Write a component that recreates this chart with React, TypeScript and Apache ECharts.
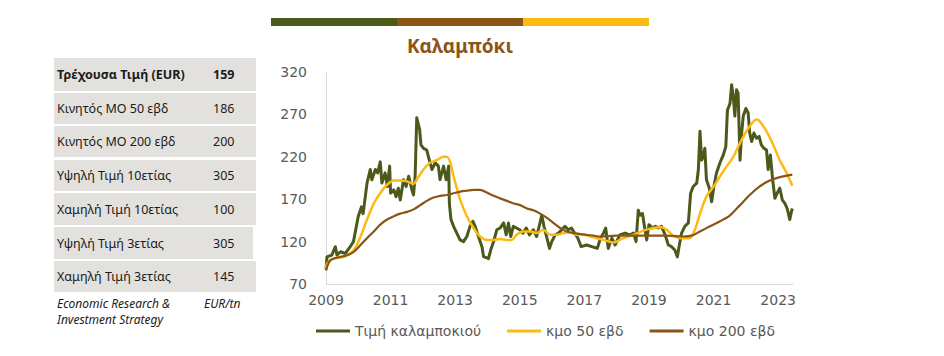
import React, { useEffect, useRef } from "react";
import * as echarts from "echarts";

// ---------- data ----------
const BASE_YEAR = 2009;
const yTicks = [70, 120, 170, 220, 270, 320];
const xTickLabels = ["2009", "2011", "2013", "2015", "2017", "2019", "2021", "2023"];
const seriesNames = ["Τιμή καλαμποκιού", "κμο 50 εβδ", "κμο 200 εβδ"];

const priceYears = [
  2009.0, 2009.03, 2009.18, 2009.29, 2009.34, 2009.45, 2009.6, 2009.75, 2009.85, 2009.9,
  2010.0, 2010.1, 2010.15, 2010.27, 2010.37, 2010.42, 2010.53, 2010.6, 2010.68, 2010.73,
  2010.83, 2010.9, 2010.97, 2011.0, 2011.1, 2011.17, 2011.24, 2011.3, 2011.4, 2011.48,
  2011.56, 2011.66, 2011.71, 2011.76, 2011.81, 2011.9, 2011.94, 2012.02, 2012.12, 2012.2,
  2012.28, 2012.38, 2012.48, 2012.53, 2012.64, 2012.72, 2012.8, 2012.82, 2012.87, 2012.95,
  2013.05, 2013.15, 2013.26, 2013.36, 2013.46, 2013.55, 2013.62, 2013.72, 2013.83, 2013.88,
  2013.98, 2014.03, 2014.1, 2014.19, 2014.29, 2014.39, 2014.5, 2014.58, 2014.65, 2014.72,
  2014.8, 2014.9, 2015.0, 2015.1, 2015.2, 2015.3, 2015.42, 2015.52, 2015.6, 2015.68,
  2015.75, 2015.83, 2015.92, 2015.99, 2016.1, 2016.2, 2016.3, 2016.4, 2016.5, 2016.6,
  2016.7, 2016.8, 2016.9, 2017.07, 2017.23, 2017.4, 2017.5, 2017.59, 2017.66, 2017.74,
  2017.85, 2017.95, 2018.1, 2018.26, 2018.41, 2018.52, 2018.6, 2018.67, 2018.72, 2018.8,
  2018.86, 2018.93, 2019.0, 2019.11, 2019.2, 2019.29, 2019.39, 2019.5, 2019.6, 2019.7,
  2019.8, 2019.88, 2019.94, 2020.01, 2020.11, 2020.22, 2020.29, 2020.37, 2020.48, 2020.53,
  2020.58, 2020.63, 2020.68, 2020.73, 2020.78, 2020.87, 2020.94, 2021.01, 2021.09, 2021.2,
  2021.3, 2021.38, 2021.43, 2021.51, 2021.56, 2021.61, 2021.66, 2021.71, 2021.76, 2021.82,
  2021.87, 2021.92, 2022.0, 2022.07, 2022.12, 2022.18, 2022.25, 2022.33, 2022.41, 2022.48,
  2022.56, 2022.64, 2022.69, 2022.76, 2022.83, 2022.9, 2022.97, 2023.05, 2023.13, 2023.21,
  2023.28, 2023.36, 2023.41, 2023.44,
];
const priceValues = [
  87, 102, 104, 114, 104, 108, 106, 114, 120, 130,
  150, 161, 153, 189, 205, 193, 205, 201, 214, 189,
  201, 185, 209, 177, 181, 173, 183, 169, 193, 185,
  197, 181, 175, 197, 266, 252, 234, 230, 228, 216,
  205, 213, 209, 193, 209, 193, 209, 165, 146, 138,
  130, 122, 120, 126, 138, 144, 138, 126, 114, 102,
  101, 100, 110, 120, 134, 136, 142, 128, 142, 126,
  138, 136, 134, 130, 136, 128, 134, 126, 138, 151,
  138, 126, 112, 120, 128, 130, 134, 138, 134, 136,
  130, 124, 114, 116, 114, 112, 124, 130, 136, 112,
  124, 116, 128, 130, 128, 130, 120, 157, 151, 153,
  138, 122, 140, 136, 138, 136, 138, 128, 116, 114,
  110, 102, 116, 130, 138, 142, 177, 185, 189, 205,
  250, 216, 220, 230, 193, 183, 167, 185, 201, 213,
  222, 232, 275, 283, 305, 291, 268, 299, 295, 216,
  248, 268, 277, 272, 248, 238, 248, 242, 244, 234,
  230, 228, 205, 222, 193, 171, 177, 183, 169, 165,
  159, 146, 155, 159,
];

const ma50Years = [
  2009.0, 2009.03, 2009.24, 2009.55, 2009.86, 2010.07, 2010.27, 2010.48, 2010.68, 2010.89,
  2011.1, 2011.3, 2011.51, 2011.71, 2011.81, 2012.02, 2012.22, 2012.43, 2012.64, 2012.74,
  2012.85, 2012.95, 2013.16, 2013.36, 2013.57, 2013.77, 2013.98, 2014.19, 2014.39, 2014.6,
  2014.75, 2014.9, 2015.1, 2015.32, 2015.53, 2015.73, 2015.94, 2016.15, 2016.35, 2016.56,
  2016.76, 2016.97, 2017.18, 2017.38, 2017.59, 2017.9, 2018.2, 2018.52, 2018.83, 2019.13,
  2019.39, 2019.55, 2019.75, 2020.01, 2020.25, 2020.42, 2020.58, 2020.78, 2021.04, 2021.3,
  2021.61, 2021.87, 2022.12, 2022.33, 2022.43, 2022.64, 2022.85, 2023.05, 2023.26, 2023.44,
];
const ma50Values = [
  88, 94, 100, 102, 110, 126, 146, 165, 177, 187,
  192, 192, 191, 188, 193, 205, 213, 216, 220, 220,
  213, 197, 169, 150, 136, 126, 122, 122, 123, 122,
  122, 128, 132, 132, 130, 134, 128, 128, 130, 131,
  128, 128, 126, 124, 122, 119, 124, 128, 133, 136,
  137, 134, 127, 124, 124, 134, 153, 173, 187, 203,
  220, 240, 256, 264, 262, 250, 234, 216, 201, 186,
];

const ma200Years = [
  2009.0, 2009.13, 2009.34, 2009.65, 2009.86, 2010.07, 2010.27, 2010.48, 2010.68, 2010.89,
  2011.1, 2011.3, 2011.51, 2011.71, 2011.92, 2012.12, 2012.33, 2012.54, 2012.74, 2012.95,
  2013.16, 2013.36, 2013.57, 2013.77, 2013.98, 2014.19, 2014.39, 2014.6, 2014.81, 2015.01,
  2015.22, 2015.42, 2015.63, 2015.84, 2016.04, 2016.25, 2016.45, 2016.66, 2016.87, 2017.07,
  2017.28, 2017.49, 2018.0, 2018.52, 2019.03, 2019.55, 2020.06, 2020.32, 2020.58, 2020.89,
  2021.2, 2021.51, 2021.82, 2022.12, 2022.43, 2022.74, 2023.05, 2023.44,
];
const ma200Values = [
  86, 98, 101, 104, 108, 116, 124, 132, 140, 146,
  150, 153, 155, 158, 163, 168, 172, 174, 175, 177,
  179, 180, 181, 181, 178, 174, 171, 168, 165, 163,
  159, 157, 153, 148, 142, 136, 132, 130, 129, 128,
  127, 126, 127, 127, 127, 127, 126, 127, 132, 138,
  144, 151, 163, 175, 185, 192, 196, 199,
];

const tableLabels = [
  "Τρέχουσα Τιμή (EUR)",
  "Κινητός ΜΟ 50 εβδ",
  "Κινητός ΜΟ 200 εβδ",
  "Υψηλή Τιμή 10ετίας",
  "Χαμηλή Τιμή 10ετίας",
  "Υψηλή Τιμή 3ετίας",
  "Χαμηλή Τιμή 3ετίας",
];
const tableValues = ["159", "186", "200", "305", "100", "305", "145"];

// ---------- styling ----------
const OLIVE = "#4B5A1A";
const BROWN = "#8B5516";
const YELLOW = "#FDBA12";
const FONT = "DejaVu Sans";
const TFONT = "Noto Sans";

const rowTops = [58, 93, 126, 160, 193, 227, 261];
const rowBottoms = [91, 124, 157, 191, 225, 259, 292];
const rowRights = [256, 256, 256, 256, 256, 253, 256];

const pairs = (xs: number[], ys: number[]) => xs.map((x, i) => [x - BASE_YEAR, ys[i]]);

export default function App() {
  const ref = useRef<HTMLDivElement>(null);
  useEffect(() => {
    document.body.style.margin = "0";
    if (!ref.current) return;
    const chart = echarts.init(ref.current, undefined, { renderer: "svg" });

    const graphics: any[] = [
      { type: "rect", shape: { x: 271, y: 18, width: 126, height: 8 }, style: { fill: OLIVE } },
      { type: "rect", shape: { x: 397, y: 18, width: 126, height: 8 }, style: { fill: BROWN } },
      { type: "rect", shape: { x: 523, y: 18, width: 126, height: 8 }, style: { fill: YELLOW } },
    ];
    tableLabels.forEach((lab, i) => {
      const cy = (rowTops[i] + rowBottoms[i]) / 2;
      graphics.push({
        type: "rect",
        shape: { x: 54, y: rowTops[i], width: rowRights[i] - 54, height: rowBottoms[i] - rowTops[i] },
        style: { fill: "#E3E1DD" },
      });
      graphics.push({
        type: "text",
        x: 57,
        y: cy,
        style: {
          text: lab,
          fill: "#1a1a1a",
          font: `${i === 0 ? "bold " : ""}12.5px "${TFONT}"`,
          textVerticalAlign: "middle",
          textAlign: "left",
        },
      });
      graphics.push({
        type: "text",
        x: 213,
        y: cy,
        style: {
          text: tableValues[i],
          fill: "#1a1a1a",
          font: `${i === 0 ? "bold " : ""}12.5px "${TFONT}"`,
          textVerticalAlign: "middle",
          textAlign: "left",
        },
      });
    });
    graphics.push(
      {
        type: "text",
        x: 57,
        y: 303,
        style: { text: "Economic Research &", fill: "#1a1a1a", font: `italic 12px "${TFONT}"`, textVerticalAlign: "middle" },
      },
      {
        type: "text",
        x: 57,
        y: 319,
        style: { text: "Investment Strategy", fill: "#1a1a1a", font: `italic 12px "${TFONT}"`, textVerticalAlign: "middle" },
      },
      {
        type: "text",
        x: 204,
        y: 303,
        style: { text: "EUR/tn", fill: "#1a1a1a", font: `italic 12px "${TFONT}"`, textVerticalAlign: "middle" },
      }
    );

    const xMax = 14.46;

    chart.setOption({
      animation: false,
      backgroundColor: "#ffffff",
      title: {
        text: "Καλαμπόκι",
        left: 455,
        top: 31,
        textAlign: "center",
        textStyle: { color: BROWN, fontFamily: TFONT, fontWeight: "bold", fontSize: 19 },
      },
      legend: {
        left: 311,
        top: 319,
        itemWidth: 34,
        itemHeight: 3,
        itemGap: 26,
        icon: "rect",
        textStyle: { fontFamily: FONT, fontSize: 14, color: "#595959" },
        data: seriesNames,
      },
      grid: { left: 326, right: 944 - 793, top: 72, bottom: 356 - 284, containLabel: false },
      xAxis: {
        type: "value",
        min: 0,
        max: xMax,
        interval: 2,
        splitLine: { show: false },
        axisTick: { show: false },
        axisLine: { show: true, lineStyle: { color: "#D9D9D9", width: 1 } },
        axisLabel: {
          color: "#595959",
          fontFamily: FONT,
          fontSize: 14,
          margin: 9,
          showMaxLabel: false,
          formatter: (v: number) => {
            const idx = Math.round(v / 2);
            return xTickLabels[idx] ?? "";
          },
        },
      },
      yAxis: {
        type: "value",
        min: yTicks[0],
        max: yTicks[yTicks.length - 1],
        interval: 50,
        splitLine: { show: false },
        axisTick: { show: false },
        axisLine: { show: true, lineStyle: { color: "#D9D9D9", width: 1 } },
        axisLabel: { color: "#595959", fontFamily: FONT, fontSize: 14, margin: 19 },
      },
      series: [
        {
          name: seriesNames[0],
          type: "line",
          data: pairs(priceYears, priceValues),
          symbol: "none",
          lineStyle: { color: OLIVE, width: 3, join: "round" },
          itemStyle: { color: OLIVE },
        },
        {
          name: seriesNames[1],
          type: "line",
          data: pairs(ma50Years, ma50Values),
          symbol: "none",
          smooth: 0.3,
          lineStyle: { color: YELLOW, width: 2.5 },
          itemStyle: { color: YELLOW },
        },
        {
          name: seriesNames[2],
          type: "line",
          data: pairs(ma200Years, ma200Values),
          symbol: "none",
          smooth: 0.3,
          lineStyle: { color: BROWN, width: 2.2 },
          itemStyle: { color: BROWN },
        },
      ],
      graphic: graphics,
    });
    return () => chart.dispose();
  }, []);
  return <div ref={ref} style={{ width: 944, height: 356 }} />;
}
